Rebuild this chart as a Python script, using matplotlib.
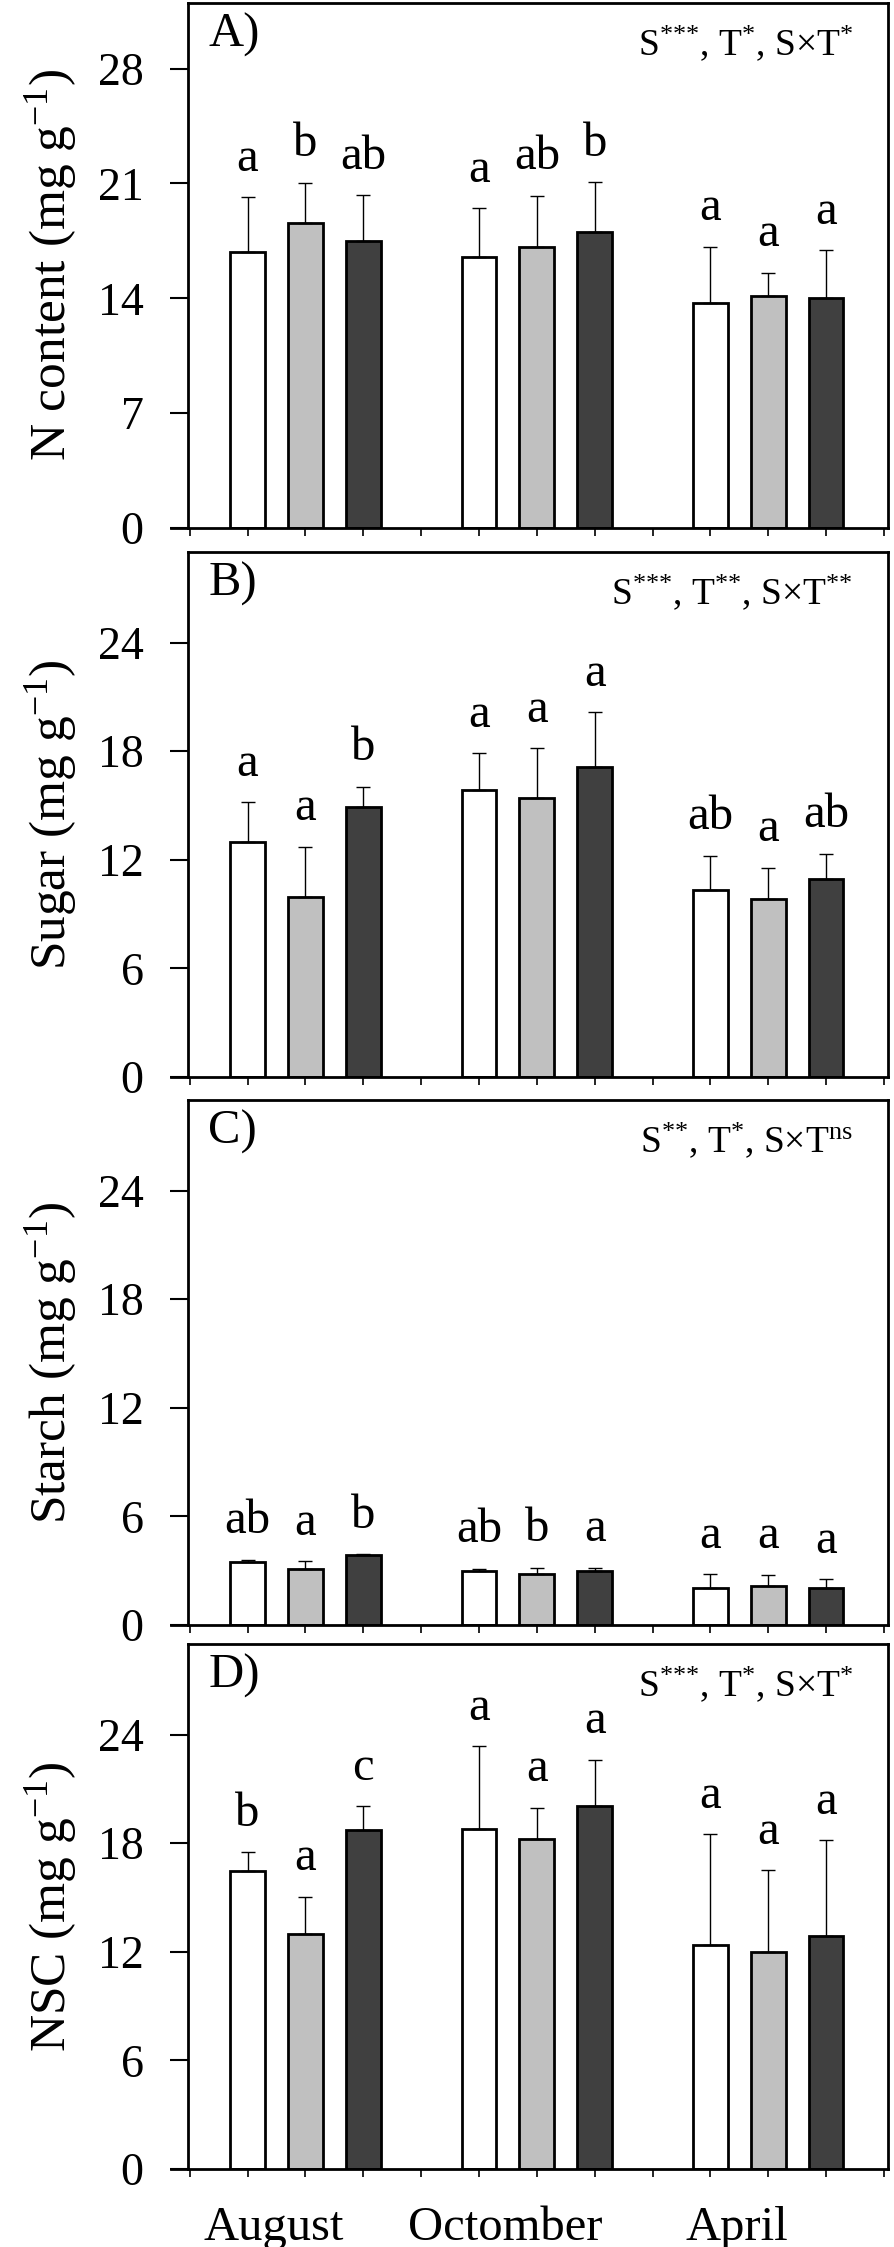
"""Four stacked bar panels: N content, sugar, starch and NSC by month and treatment."""
import matplotlib
matplotlib.use("Agg")
import matplotlib.pyplot as plt
import numpy as np
from matplotlib.lines import Line2D

plt.rcParams["font.family"] = ["Liberation Serif", "DejaVu Serif"]
plt.rcParams["mathtext.fontset"] = "custom"
plt.rcParams["mathtext.rm"] = "Liberation Serif"
plt.rcParams["mathtext.it"] = "Liberation Serif:italic"

MONTHS = ["August", "Octomber", "April"]
BAR_COLORS = ["#ffffff", "#c0c0c0", "#404040"]

# means per month (rows) and treatment (cols), upward SE, letters
N_MEAN = [[16.8, 18.6, 17.5], [16.5, 17.15, 18.07], [13.7, 14.14, 14.0]]
N_ERR = [[3.35, 2.45, 2.8], [3.0, 3.1, 3.0], [3.45, 1.43, 2.93]]
N_LET = [["a", "b", "ab"], ["a", "ab", "b"], ["a", "a", "a"]]

SUGAR_MEAN = [[12.96, 9.93, 14.94], [15.83, 15.43, 17.1], [10.33, 9.85, 10.92]]
SUGAR_ERR = [[2.22, 2.79, 1.09], [2.07, 2.73, 3.04], [1.9, 1.72, 1.41]]
SUGAR_LET = [["a", "a", "b"], ["a", "a", "a"], ["ab", "a", "ab"]]

STARCH_MEAN = [[3.5, 3.1, 3.85], [3.0, 2.82, 3.0], [2.07, 2.15, 2.03]]
STARCH_ERR = [[0.11, 0.42, 0.06], [0.1, 0.34, 0.16], [0.75, 0.62, 0.5]]
STARCH_LET = [["ab", "a", "b"], ["ab", "b", "a"], ["a", "a", "a"]]

NSC_MEAN = [[16.44, 12.96, 18.74], [18.8, 18.22, 20.05], [12.35, 11.97, 12.87]]
NSC_ERR = [[1.07, 2.08, 1.31], [4.56, 1.74, 2.55], [6.13, 4.55, 5.29]]
NSC_LET = [["b", "a", "c"], ["a", "a", "a"], ["a", "a", "a"]]

S3 = r"$^{{*}{*}{*}}$"
S2 = r"$^{{*}{*}}$"
S1 = r"$^{{*}}$"
PANELS = [
    ("A)", "N content", N_MEAN, N_ERR, N_LET, [0, 7, 14, 21, 28], 32,
     "S" + S3 + ", T" + S1 + ", S×T" + S1),
    ("B)", "Sugar", SUGAR_MEAN, SUGAR_ERR, SUGAR_LET, [0, 6, 12, 18, 24], 29,
     "S" + S3 + ", T" + S2 + ", S×T" + S2),
    ("C)", "Starch", STARCH_MEAN, STARCH_ERR, STARCH_LET, [0, 6, 12, 18, 24], 29,
     "S" + S2 + ", T" + S1 + r", S×T$^{\mathrm{ns}}$"),
    ("D)", "NSC", NSC_MEAN, NSC_ERR, NSC_LET, [0, 6, 12, 18, 24], 29,
     "S" + S3 + ", T" + S1 + ", S×T" + S1),
]

W, H = 894, 2247
fig = plt.figure(figsize=(W / 100, H / 100), dpi=100)

LEFT, RIGHT = 188, 888
TOPS = [3, 552, 1100, 1644]
PANEL_H = 525

for k, (tag, ylab, mean, err, letters, yticks, ytop, stats) in enumerate(PANELS):
    top = TOPS[k]
    ax = fig.add_axes([LEFT / W, 1 - (top + PANEL_H) / H, (RIGHT - LEFT) / W, PANEL_H / H])

    mean = np.array(mean)
    err = np.array(err)
    for g in range(3):
        xs = 4 * g + np.arange(1, 4)
        for j in range(3):
            ax.bar(xs[j], mean[g, j], width=0.6, color=BAR_COLORS[j],
                   edgecolor="black", linewidth=2.0, zorder=2)
            ax.errorbar(xs[j], mean[g, j], yerr=[[0], [err[g, j]]], fmt="none",
                        ecolor="black", elinewidth=1.0, capsize=5, capthick=1.0, zorder=3)
            ax.annotate(letters[g][j], (xs[j], mean[g, j] + err[g, j]),
                        xytext=(0, 19), textcoords="offset points",
                        ha="center", va="baseline", fontsize=35)

    ax.set_xlim(-0.03, 12.07)
    ax.set_ylim(0, ytop)
    ax.set_xticks(np.arange(0, 13))
    ax.set_xticklabels([])
    ax.set_yticks(yticks)
    ax.tick_params(axis="y", direction="out", length=13, width=1.5, labelsize=33, pad=19)
    ax.tick_params(axis="x", direction="out", length=6, width=1.2)
    for sp in ax.spines.values():
        sp.set_linewidth(2.0)

    # bottom axis line runs a bit past the left frame
    ax.add_line(Line2D([-0.025, 0], [0, 0], transform=ax.transAxes, color="black",
                       linewidth=2.0, clip_on=False))

    ax.set_ylabel(ylab + r" (mg g$^{-1}$)", fontsize=37)
    ax.yaxis.set_label_coords(-0.155, 0.5)

    ax.text(0.029, 0.916, tag, transform=ax.transAxes, fontsize=35,
            ha="left", va="baseline")
    ax.text(0.95, 0.9, stats, transform=ax.transAxes, fontsize=27,
            ha="right", va="baseline")

    if k == 3:
        for g, name in enumerate(MONTHS):
            ax.text(4 * g + 2 - 0.55, -0.135, name, transform=ax.get_xaxis_transform(),
                    ha="center", va="baseline", fontsize=35)

fig.savefig("out.png", dpi=100)
